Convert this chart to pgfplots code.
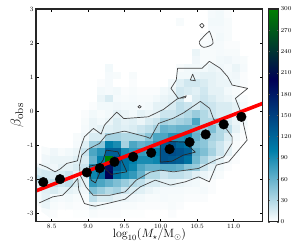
\documentclass[border=0pt]{standalone}
\usepackage{pgfplots}
\pgfplotsset{compat=1.18}
\definecolor{redline}{rgb}{1,0,0}
\pgfplotsset{contourline/.style={no marks,line width=0.7pt,color=black!72,line join=round}}
\begin{document}
\begin{tikzpicture}
\path[use as bounding box] (-36pt,-23.3pt) rectangle (257pt,221.7pt);
\begin{axis}[
  anchor=south west, at={(0pt,0pt)},
  scale only axis, width=226.7pt, height=212.7pt,
  xmin=8.284, xmax=11.4, ymin=-3.25, ymax=3,
  xtick={8.5,9,9.5,10,10.5,11},
  xticklabels={8.5,9.0,9.5,10.0,10.5,11.0},
  ytick={-3,-2,-1,0,1,2,3},
  yticklabels={-3,-2,-1,0,1,2,3},
  tick align=inside, tick style={black,line width=0.9pt}, major tick length=3pt,
  axis line style={line width=1.2pt,black!85},
  tick label style={font=\fontsize{6.5}{7}\selectfont},
  xticklabel style={inner sep=0.5pt,yshift=-1.3pt}, yticklabel style={xshift=1pt},
  xlabel={$\log_{10}(M_{\star}/\mathrm{M}_{\odot})$},
  ylabel={$\beta_{\rm obs}$},
  xlabel style={font=\fontsize{12}{14}\selectfont,inner sep=0pt,yshift=0pt},
  ylabel style={font=\fontsize{15}{16}\selectfont,yshift=-3pt},
  colormap={oceanr}{rgb=(1,1,1) rgb=(0,0.5,0.667) rgb=(0,0,0.333) rgb=(0,0.5,0)},
  point meta min=0, point meta max=300,
  colorbar,
  colorbar style={width=10.4pt, at={(1.024,0)}, anchor=south west,
    ytick={0,30,...,300}, tick align=inside, major tick length=1.5pt,
    tick style={black!60,line width=0.3pt},
    axis line style={line width=1.1pt,black!85},
    yticklabel style={font=\fontsize{6.5}{7}\selectfont,xshift=-1.5pt},
    scaled y ticks=false},
  clip=true, axis on top,
]
\addplot[matrix plot*, mesh/cols=28, mesh/check=false, point meta=explicit]
 table[row sep=\\, header=false,
   x expr={8.3106+0.10882*mod(\coordindex,28)},
   y expr={2.839-0.225*floor(\coordindex/28)},
   meta expr={\thisrowno{0}}]{
0\\0\\0\\0\\0\\0\\0\\ 0\\0\\0\\0\\0\\0\\0\\0\\0\\0\\0\\0\\0\\0\\0\\4\\5\\2\\0\\0\\0\\
0\\0\\0\\0\\0\\0\\0\\ 0\\0\\0\\0\\0\\0\\0\\0\\0\\0\\0\\3\\0\\0\\0\\5\\5\\3\\0\\0\\0\\
0\\0\\0\\0\\0\\0\\0\\ 0\\0\\0\\0\\0\\0\\0\\0\\0\\0\\0\\0\\0\\0\\0\\4\\4\\3\\0\\0\\0\\
0\\0\\0\\0\\0\\0\\0\\ 0\\0\\0\\0\\0\\0\\0\\0\\0\\0\\0\\0\\0\\0\\2\\3\\5\\3\\0\\0\\0\\
0\\0\\0\\0\\0\\0\\0\\ 0\\0\\0\\0\\0\\0\\0\\0\\0\\0\\0\\0\\0\\0\\3\\4\\4\\2\\2\\0\\0\\
0\\0\\0\\0\\0\\0\\0\\ 0\\0\\0\\0\\0\\0\\0\\0\\0\\0\\0\\0\\0\\8\\3\\3\\4\\3\\3\\0\\0\\
0\\0\\0\\0\\0\\0\\0\\ 0\\0\\0\\0\\0\\0\\0\\0\\0\\0\\0\\0\\0\\6\\3\\3\\5\\6\\4\\3\\0\\
0\\0\\0\\0\\0\\0\\0\\ 0\\0\\5\\0\\0\\0\\0\\0\\0\\0\\0\\3\\5\\5\\5\\8\\6\\4\\8\\4\\0\\
0\\0\\0\\0\\0\\0\\0\\ 0\\0\\4\\3\\0\\3\\0\\0\\0\\0\\0\\5\\5\\8\\10\\10\\8\\5\\6\\2\\0\\
0\\0\\0\\0\\0\\0\\0\\ 0\\2\\4\\0\\0\\2\\0\\0\\0\\0\\5\\12\\18\\18\\15\\10\\8\\8\\5\\2\\0\\
0\\0\\0\\0\\0\\0\\0\\ 0\\5\\4\\5\\2\\3\\2\\2\\2\\5\\8\\18\\15\\12\\18\\10\\10\\5\\3\\0\\0\\
0\\0\\0\\0\\0\\0\\0\\ 0\\8\\15\\4\\3\\4\\3\\3\\5\\8\\10\\18\\3\\15\\20\\15\\10\\8\\5\\2\\0\\
0\\0\\0\\0\\0\\0\\0\\ 2\\5\\5\\6\\5\\5\\4\\5\\10\\10\\15\\25\\20\\15\\25\\20\\15\\15\\10\\4\\0\\
0\\0\\0\\0\\0\\0\\2\\ 5\\3\\5\\10\\8\\5\\10\\8\\10\\20\\20\\25\\30\\40\\30\\20\\15\\15\\8\\3\\0\\
0\\0\\0\\0\\0\\0\\3\\ 8\\5\\8\\15\\10\\12\\8\\15\\20\\35\\30\\35\\40\\70\\30\\30\\35\\15\\8\\5\\0\\
0\\0\\0\\0\\0\\0\\4\\ 8\\10\\12\\15\\12\\15\\20\\25\\35\\60\\55\\60\\60\\55\\40\\50\\30\\25\\10\\3\\0\\
0\\0\\0\\0\\0\\3\\6\\ 15\\15\\35\\35\\30\\30\\30\\45\\70\\70\\85\\85\\90\\60\\45\\35\\30\\15\\5\\2\\0\\
0\\0\\0\\0\\0\\4\\12\\ 40\\45\\100\\90\\35\\70\\60\\65\\80\\130\\135\\120\\110\\50\\45\\30\\20\\10\\3\\0\\0\\
0\\3\\6\\3\\5\\8\\20\\ 70\\85\\125\\125\\90\\80\\80\\75\\100\\135\\140\\135\\125\\60\\50\\35\\20\\10\\3\\0\\0\\
0\\6\\8\\8\\8\\12\\15\\ 60\\100\\300\\140\\110\\100\\90\\90\\95\\135\\130\\125\\110\\55\\35\\20\\10\\4\\2\\0\\0\\
6\\8\\6\\10\\10\\15\\20\\ 90\\110\\190\\130\\110\\95\\70\\60\\60\\65\\65\\60\\45\\40\\20\\10\\5\\2\\0\\0\\0\\
15\\18\\15\\15\\20\\10\\15\\ 95\\115\\200\\110\\90\\80\\60\\30\\30\\20\\25\\25\\20\\12\\8\\5\\3\\0\\0\\0\\0\\
25\\20\\25\\20\\25\\15\\10\\ 80\\70\\60\\50\\40\\30\\25\\15\\15\\10\\10\\8\\6\\5\\3\\2\\0\\0\\0\\0\\0\\
10\\12\\15\\10\\10\\8\\6\\ 50\\40\\30\\35\\20\\15\\12\\8\\5\\4\\4\\4\\3\\3\\4\\2\\0\\0\\0\\0\\0\\
5\\10\\5\\4\\5\\3\\3\\ 25\\15\\15\\10\\8\\6\\5\\3\\3\\4\\3\\3\\2\\2\\2\\0\\0\\0\\0\\0\\0\\
3\\8\\3\\2\\3\\2\\2\\ 8\\5\\4\\4\\3\\3\\2\\2\\2\\2\\3\\2\\0\\0\\0\\0\\0\\0\\0\\0\\0\\
0\\3\\2\\0\\0\\1\\1\\ 3\\2\\2\\2\\1\\1\\1\\0\\0\\0\\2\\0\\0\\0\\0\\0\\0\\0\\0\\0\\0\\
};
% contours
\addplot[contourline] coordinates {(8.329,-1.559)(8.431,-1.647)(8.546,-1.785)(8.614,-1.706)(8.707,-1.538)(8.853,-1.462)(8.894,-1.088)(8.949,-0.756)(9.073,-0.509)(9.179,-0.676)(9.225,-0.412)(9.393,-0.029)(9.492,-0.221)(9.827,-0.168)(10.037,0.050)(10.222,0.353)(10.350,0.450)(10.336,0.392)(10.240,0.373)(10.139,0.668)(10.212,0.912)(10.230,1.256)(10.566,1.256)(10.667,1.462)(10.818,1.256)(10.919,1.009)(10.980,0.765)(11.194,0.667)(11.025,0.374)(11.070,0.126)(11.117,-0.118)(11.139,-0.412)(11.186,-0.853)(10.933,-1.491)(10.763,-1.588)(10.667,-2.079)(10.519,-1.932)(10.336,-2.079)(10.130,-2.176)(9.923,-2.029)(9.716,-2.227)(9.510,-2.588)(9.303,-2.697)(9.097,-2.794)(9.028,-2.765)(8.949,-2.715)(8.872,-2.323)(8.858,-1.979)(8.766,-2.226)(8.652,-2.470)(8.514,-2.520)(8.329,-2.697)};
\addplot[contourline] coordinates {(9.248,-0.706)(9.500,-0.588)(9.799,-0.756)(9.854,-0.803)(9.968,-0.362)(10.175,-0.206)(10.313,-0.050)(10.543,0.285)(10.671,0.080)(10.726,-0.244)(10.842,-0.353)(10.980,-0.756)(10.980,-0.950)(10.864,-1.344)(10.749,-1.441)(10.519,-1.685)(10.175,-1.785)(9.992,-1.735)(9.854,-1.794)(9.661,-2.029)(9.510,-2.373)(9.303,-2.471)(9.069,-2.471)(8.973,-2.235)(8.890,-1.882)(8.883,-1.588)(8.913,-1.294)(8.996,-1.126)(9.156,-0.950)(9.248,-0.706)};
\addplot[contourline,color=black!85] coordinates {(9.248,-1.147)(9.409,-1.197)(9.533,-1.785)(9.317,-1.861)(9.225,-1.676)(9.165,-1.794)(9.101,-2.109)(9.041,-2.029)(9.014,-1.618)(9.165,-1.559)(9.207,-1.441)(9.248,-1.147)};
\addplot[contourline,color=black!85] coordinates {(9.992,-0.882)(10.322,-0.912)(10.474,-1.206)(10.309,-1.294)(10.157,-1.470)(9.992,-1.500)(9.992,-0.882)};
\addplot[contourline] coordinates {(9.707,0.165)(9.730,0.126)(9.707,0.087)(9.684,0.126)(9.707,0.165)};
\addplot[contourline] coordinates {(10.437,1.088)(10.474,0.891)(10.405,0.912)(10.437,1.088)};
\addplot[contourline] coordinates {(10.566,2.58)(10.594,2.509)(10.566,2.441)(10.533,2.521)(10.566,2.58)};
\addplot[contourline,smooth] coordinates {(10.667,2.353)(10.717,1.991)(10.588,1.874)(10.529,2.038)(10.667,2.353)};
% fit line
\addplot[no marks,redline,line width=3.6pt] coordinates {(8.284,-2.344)(11.4,0.226)};
% binned points
\addplot[only marks,mark=*,mark size=4.8pt,mark options={fill=black,draw=black}] coordinates {
(8.384,-2.088)(8.614,-2.0)(8.982,-1.803)(9.161,-1.676)(9.362,-1.491)(9.62,-1.344)(9.868,-1.225)(10.12,-1.118)(10.395,-0.912)(10.616,-0.685)(10.864,-0.391)(11.107,-0.168)};
\end{axis}
\end{tikzpicture}
\end{document}
